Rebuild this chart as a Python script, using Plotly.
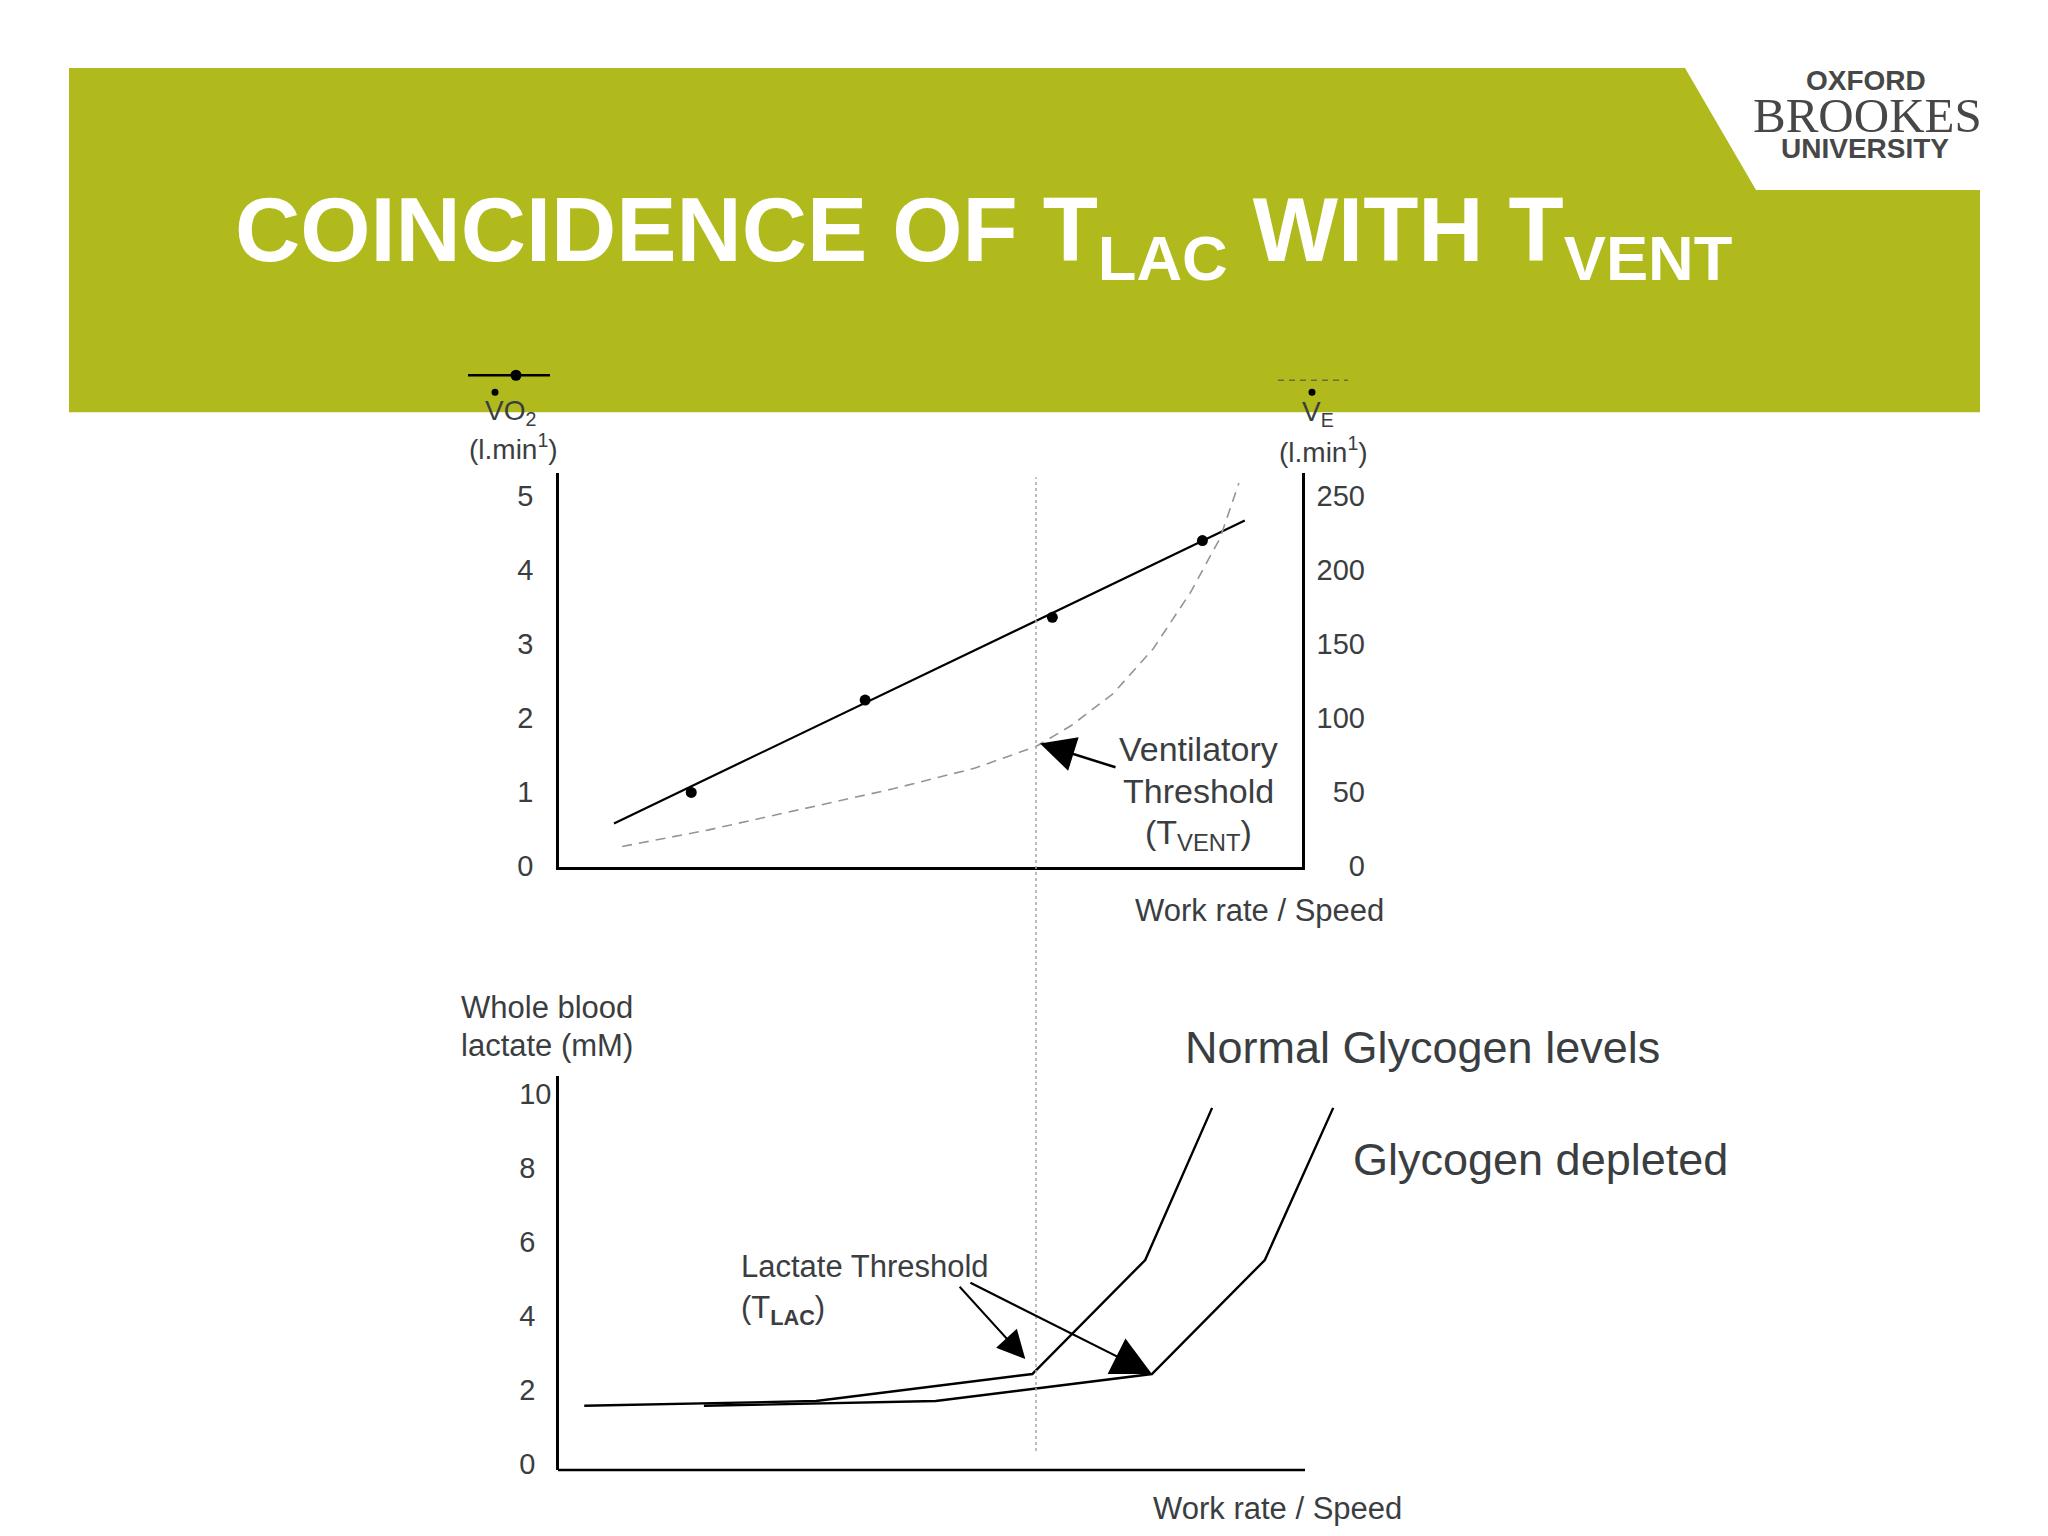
import plotly.graph_objects as go

# ---------------- data ----------------
# upper panel: VO2 (l/min, left axis) and VE (l/min, right axis) vs work rate
work_vo2_line = [0.74, 9.23]
vo2_line = [0.57, 4.67]
work_vo2_pts = [1.78, 4.12, 6.64, 8.66]
vo2_pts = [0.99, 2.24, 3.36, 4.40]
work_ve = [0.85, 2.0, 3.25, 4.5, 5.6, 6.42, 6.9, 7.46, 8.0, 8.5, 8.9, 9.15]
ve = [12.9, 24.0, 38.0, 52.0, 66.0, 80.6, 95.0, 116.5, 147.0, 185.0, 222.0, 259.0]
vent_threshold_idx = 5

# lower panel: whole blood lactate (mM) vs work rate
work_normal = [0.34, 3.46, 6.37, 7.89, 8.79]
lac_normal = [1.57, 1.70, 2.43, 5.51, 9.62]
work_depleted = [1.95, 5.07, 7.98, 9.50, 10.42]
lac_depleted = [1.57, 1.70, 2.43, 5.51, 9.62]
lac_threshold_idx = 2

vo2_ticks = [0, 1, 2, 3, 4, 5]
ve_ticks = [0, 50, 100, 150, 200, 250]
lac_ticks = [0, 2, 4, 6, 8, 10]

# ---------------- helpers ----------------
W, H = 2048, 1536
KY = 1.0105  # vertical layout factor
NB = "\u00a0"


def px(x):
    return x / W


def py(y):
    return 1 - (y * KY) / H


FONT = "Liberation Sans, Arial, sans-serif"
SERIF = "Liberation Serif, Times New Roman, serif"
TXT = "#3b3e41"
GREEN = "#b0ba1d"
LOGO = "#474747"

fig = go.Figure()

# upper panel traces
fig.add_trace(go.Scatter(x=work_vo2_line, y=vo2_line, mode="lines",
                         line=dict(color="black", width=2.2),
                         xaxis="x", yaxis="y", hoverinfo="skip"))
fig.add_trace(go.Scatter(x=work_vo2_pts, y=vo2_pts, mode="markers",
                         marker=dict(color="black", size=11),
                         xaxis="x", yaxis="y"))
fig.add_trace(go.Scatter(x=work_ve, y=ve, mode="lines",
                         line=dict(color="#959595", width=1.6, dash="10px,7px"),
                         xaxis="x", yaxis="y2"))

# lower panel traces
fig.add_trace(go.Scatter(x=work_normal, y=lac_normal, mode="lines",
                         line=dict(color="black", width=2.4),
                         xaxis="x2", yaxis="y3"))
fig.add_trace(go.Scatter(x=work_depleted, y=lac_depleted, mode="lines",
                         line=dict(color="black", width=2.4),
                         xaxis="x2", yaxis="y3"))

tickfont = dict(size=29, color=TXT, family=FONT)
ve_ticktext = [f"{v:>3}".replace(" ", NB + NB) for v in ve_ticks]
lac_ticktext = [str(v) + NB * 2 * (2 - len(str(v))) for v in lac_ticks]

X_PER_UNIT = (1302 - 559) / 10.0

fig.update_layout(
    width=W, height=H,
    margin=dict(l=0, r=0, t=0, b=0, pad=0),
    paper_bgcolor="white", plot_bgcolor="rgba(0,0,0,0)",
    showlegend=False,
    xaxis=dict(domain=[px(559), px(1302)], range=[0, 10], anchor="y",
               showline=True, linecolor="black", linewidth=2.5,
               showticklabels=False, ticks="", showgrid=False, zeroline=False),
    yaxis=dict(domain=[py(866), py(473)], range=[-0.014, 5.31], anchor="x",
               tickvals=vo2_ticks, ticks="", showline=True, linecolor="black",
               linewidth=2.5, showgrid=False, zeroline=False,
               tickfont=tickfont, ticklabelstandoff=17),
    yaxis2=dict(overlaying="y", side="right", anchor="x",
                range=[-0.68, 265.6], tickvals=ve_ticks, ticktext=ve_ticktext,
                ticks="", showline=True, linecolor="black", linewidth=2.5,
                showgrid=False, zeroline=False, tickfont=tickfont,
                ticklabelstandoff=6),
    xaxis2=dict(domain=[px(559), px(1420)], range=[0, (1420 - 559) / X_PER_UNIT],
                anchor="y3", visible=False),
    yaxis3=dict(domain=[py(1469), py(1075)], range=[-0.162, 10.49], anchor="x2",
                tickvals=lac_ticks, ticktext=lac_ticktext, ticks="",
                showline=True, linecolor="black", linewidth=2.5,
                showgrid=False, zeroline=False, tickfont=tickfont,
                ticklabelstandoff=-1),
)

# ---------------- shapes ----------------
shapes = []
# green banner
shapes.append(dict(type="rect", xref="paper", yref="paper",
                   x0=px(69), x1=px(1980), y0=py(412), y1=py(68),
                   fillcolor=GREEN, line=dict(width=0), layer="below"))
# white logo cut-out
shapes.append(dict(type="path", xref="paper", yref="paper",
                   path=f"M {px(1685)} {py(68)} L {px(1980)} {py(68)} L {px(1980)} {py(190)} "
                        f"L {px(1756)} {py(190)} Z",
                   fillcolor="white", line=dict(width=0), layer="below"))
# lower x-axis line
shapes.append(dict(type="line", xref="paper", yref="paper",
                   x0=px(558), x1=px(1305), y0=py(1469), y1=py(1469),
                   line=dict(color="black", width=2.5)))
# vertical dotted threshold line
shapes.append(dict(type="line", xref="x", yref="paper",
                   x0=work_ve[vent_threshold_idx], x1=work_ve[vent_threshold_idx],
                   y0=py(1450), y1=py(477),
                   line=dict(color="#a8a8a8", width=1.5, dash="dot")))
# legend key: VO2 (line with dot)
shapes.append(dict(type="line", xref="paper", yref="paper",
                   x0=px(468), x1=px(550), y0=py(375), y1=py(375),
                   line=dict(color="black", width=2.5)))
shapes.append(dict(type="circle", xref="paper", yref="paper",
                   x0=px(510.5), x1=px(521.5), y0=py(380.5), y1=py(369.5),
                   fillcolor="black", line=dict(width=0)))
# legend key: VE (dashed)
shapes.append(dict(type="line", xref="paper", yref="paper",
                   x0=px(1278), x1=px(1348), y0=py(380), y1=py(380),
                   line=dict(color="#6d6d3a", width=1.5, dash="6px,5px")))
# dots above V
for cx, cy in [(495, 392), (1312, 392)]:
    shapes.append(dict(type="circle", xref="paper", yref="paper",
                       x0=px(cx - 3.5), x1=px(cx + 3.5), y0=py(cy + 3.5), y1=py(cy - 3.5),
                       fillcolor="black", line=dict(width=0)))
fig.update_layout(shapes=shapes)

# ---------------- annotations ----------------
anns = []


def ann(text, x, y, size, xanchor="center", yanchor="middle", color=TXT,
        family=FONT, align="center"):
    anns.append(dict(text=text, x=px(x), y=py(y), xref="paper", yref="paper",
                     xanchor=xanchor, yanchor=yanchor, showarrow=False,
                     align=align, font=dict(size=size, color=color, family=family)))


# title
ann("<b>COINCIDENCE OF T<sub>LAC</sub> WITH T<sub>VENT</sub></b>", 233, 236, 90.3,
    xanchor="left", color="white")
# logo
ann("<b>OXFORD</b>", 1866, 80, 28, color=LOGO)
ann("BROOKES", 1867, 115, 49, color=LOGO, family=SERIF)
ann("<b>UNIVERSITY</b>", 1865, 148, 28, color=LOGO)

# axis titles
ann("VO<sub>2</sub>", 510, 412, 28)
ann("(l.min<sup>1</sup>)", 513, 447, 28)
ann("V<sub>E</sub>", 1318, 413, 28)
ann("(l.min<sup>1</sup>)", 1323, 450, 28)
ann("Work rate / Speed", 1133, 910, 31, xanchor="left")
ann("Whole blood", 459, 1007, 31, xanchor="left")
ann("lactate (mM)", 459, 1045, 31, xanchor="left")
ann("Work rate / Speed", 1151, 1508, 31, xanchor="left")

# labels
ann("Ventilatory", 1198, 749, 34)
ann("Threshold", 1198, 791, 34)
ann("(T<sub>VENT</sub>)", 1198, 834, 34)
ann("Lactate Threshold", 739, 1266, 31, xanchor="left")
ann("(T<sub><b>LAC</b></sub>)", 739, 1309, 31, xanchor="left")
ann("Normal Glycogen levels", 1183, 1047, 45, xanchor="left")
ann("Glycogen depleted", 1351, 1159, 45, xanchor="left")

# arrows
arrow = dict(text="", showarrow=True, arrowcolor="black", axref="pixel",
             ayref="pixel", standoff=0, arrowhead=2)
anns.append(dict(arrow, x=work_ve[vent_threshold_idx], y=ve[vent_threshold_idx],
                 xref="x", yref="y2", xshift=4, yshift=3, ax=77, ay=24 * KY,
                 arrowwidth=2.5, arrowsize=2.8))
anns.append(dict(arrow, x=work_normal[lac_threshold_idx], y=lac_normal[lac_threshold_idx],
                 xref="x2", yref="y3", xshift=-7, yshift=15, ax=-67, ay=-73 * KY,
                 arrowwidth=2, arrowsize=2.8))
anns.append(dict(arrow, x=work_depleted[lac_threshold_idx], y=lac_depleted[lac_threshold_idx],
                 xref="x2", yref="y3", ax=-183, ay=-91 * KY,
                 arrowwidth=2.2, arrowsize=3.6))

fig.update_layout(annotations=anns)

fig.write_html("out.html", config={"displayModeBar": False},
               post_script="document.body.style.margin='0';document.body.style.overflow='hidden';")
